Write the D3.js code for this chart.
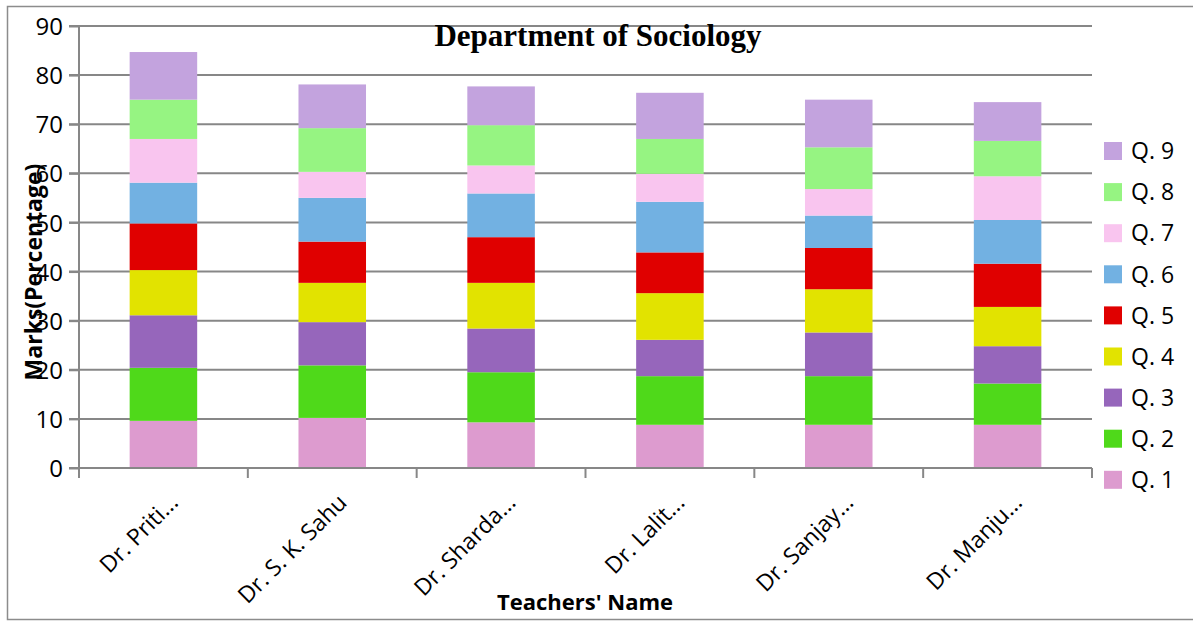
<!DOCTYPE html>
<html>
<head>
<meta charset="utf-8">
<script src="https://cdn.jsdelivr.net/npm/d3@7"></script>
<style>
  body { margin: 0; background: #fff; }
  svg text { font-family: "Open Sans", sans-serif; fill: #000; }
  .title { font-family: "Liberation Serif", "Times New Roman", serif; font-weight: bold; }
</style>
</head>
<body>
<div id="vis"></div>
<script>
// Teachers on the x axis
const teachers = ['Dr. Priti...', 'Dr. S. K. Sahu', 'Dr. Sharda...', 'Dr. Lalit...', 'Dr. Sanjay...', 'Dr. Manju...'];

// Question names, bottom of stack first
const questions = ['Q. 1', 'Q. 2', 'Q. 3', 'Q. 4', 'Q. 5', 'Q. 6', 'Q. 7', 'Q. 8', 'Q. 9'];

// Marks per question, one value per teacher
const q1 = [9.6, 10.2, 9.3, 8.8, 8.8, 8.8];
const q2 = [10.8, 10.7, 10.2, 9.9, 9.9, 8.4];
const q3 = [10.7, 8.8, 8.9, 7.4, 8.9, 7.6];
const q4 = [9.2, 8.0, 9.3, 9.5, 8.8, 8.0];
const q5 = [9.5, 8.4, 9.3, 8.3, 8.4, 8.8];
const q6 = [8.3, 8.9, 8.9, 10.3, 6.6, 8.9];
const q7 = [8.9, 5.3, 5.7, 5.7, 5.4, 8.9];
const q8 = [8.0, 8.9, 8.2, 7.1, 8.5, 7.2];
const q9 = [9.7, 8.9, 7.9, 9.4, 9.7, 7.9];

const yTicks = [0, 10, 20, 30, 40, 50, 60, 70, 80, 90];

const colors = ['#dd9bcf', '#4fd91a', '#9666bb', '#e2e300', '#e00000', '#72b1e2', '#f9c5ef', '#96f482', '#c3a3de'];

const series = [q1, q2, q3, q4, q5, q6, q7, q8, q9];

// build rows for d3.stack
let rows = teachers.map((t, i) => {
    let row = { teacher: t };
    questions.forEach((q, j) => { row[q] = series[j][i]; });
    return row;
});

let margin = { left: 79, top: 26, right: 101, bottom: 156 };
let width = 1193 - margin.left - margin.right;
let height = 624 - margin.top - margin.bottom;

let svg = d3.select('#vis')
    .append('svg')
    .attr('width', 1193)
    .attr('height', 624);

// chart border
svg.append('rect')
    .attr('x', 7.5).attr('y', 6.5)
    .attr('width', 1200).attr('height', 613)
    .attr('fill', 'none')
    .attr('stroke', '#8c8c8c')
    .attr('stroke-width', 1.5);

let g = svg.append('g')
    .attr('transform', `translate(${margin.left}, ${margin.top})`);

let xScale = d3.scaleBand()
    .domain(teachers)
    .range([0, width]);

let yScale = d3.scaleLinear()
    .domain([0, 90])
    .range([height, 0]);

// gridlines
g.append('g')
    .selectAll('line')
    .data(yTicks)
    .join('line')
    .attr('x1', -10).attr('x2', width)
    .attr('y1', d => yScale(d)).attr('y2', d => yScale(d))
    .attr('stroke', '#878787')
    .attr('stroke-width', 2);

// stacked bars
let stacked = d3.stack().keys(questions)(rows);
let barW = xScale.bandwidth() * 0.4;

g.append('g')
    .selectAll('g')
    .data(stacked)
    .join('g')
    .attr('fill', (d, i) => colors[i])
    .selectAll('rect')
    .data(d => d)
    .join('rect')
    .attr('x', d => xScale(d.data.teacher) + (xScale.bandwidth() - barW) / 2)
    .attr('width', barW)
    .attr('y', d => yScale(d[1]))
    .attr('height', d => yScale(d[0]) - yScale(d[1]));

// y axis
let yAxis = d3.axisLeft(yScale).tickValues(yTicks).tickSize(10).tickPadding(6);
let yAxisG = g.append('g').call(yAxis);
yAxisG.select('.domain').attr('stroke', '#878787').attr('stroke-width', 2).attr('d', `M0,0V${height}`);
yAxisG.selectAll('.tick line').attr('stroke', '#878787').attr('stroke-width', 2);
yAxisG.selectAll('.tick text')
    .attr('font-size', 24)
    .attr('font-family', 'Open Sans')
    .attr('fill', '#000')
    .attr('dy', '0.36em');

// x axis with ticks at band boundaries
let xAxisG = g.append('g').attr('transform', `translate(0, ${height})`);
xAxisG.append('line')
    .attr('x1', 0).attr('x2', width)
    .attr('stroke', '#878787').attr('stroke-width', 2);
xAxisG.selectAll('.bound')
    .data(teachers.concat(['end']))
    .join('line')
    .attr('class', 'bound')
    .attr('x1', (d, i) => i * xScale.step())
    .attr('x2', (d, i) => i * xScale.step())
    .attr('y1', 0).attr('y2', 10)
    .attr('stroke', '#878787').attr('stroke-width', 2);

xAxisG.selectAll('.xlabel')
    .data(teachers)
    .join('text')
    .attr('class', 'xlabel')
    .attr('text-anchor', 'end')
    .attr('font-size', 23)
    .attr('transform', d => `translate(${xScale(d) + xScale.bandwidth() / 2 + 16}, 36) rotate(-45)`)
    .text(d => d);

// title
svg.append('text')
    .attr('class', 'title')
    .attr('x', 598)
    .attr('y', 46)
    .attr('text-anchor', 'middle')
    .attr('font-size', 31)
    .text('Department of Sociology');

// axis titles
svg.append('text')
    .attr('text-anchor', 'middle')
    .attr('font-weight', 'bold')
    .attr('font-size', 22)
    .attr('x', 585)
    .attr('y', 610)
    .text("Teachers' Name");

svg.append('text')
    .attr('text-anchor', 'middle')
    .attr('font-weight', 'bold')
    .attr('font-size', 23)
    .attr('transform', 'translate(42, 272) rotate(-90)')
    .text('Marks(Percentage)');

// legend, Q. 9 on top
let legend = svg.append('g').attr('transform', 'translate(1104, 151)');
let legendItems = legend.selectAll('g')
    .data(questions.slice().reverse())
    .join('g')
    .attr('transform', (d, i) => `translate(0, ${i * 41.1})`);

legendItems.append('rect')
    .attr('x', 0).attr('y', -9)
    .attr('width', 18).attr('height', 18)
    .attr('fill', d => colors[questions.indexOf(d)]);

legendItems.append('text')
    .attr('x', 27)
    .attr('dy', '0.36em')
    .attr('font-size', 23)
    .text(d => d);
</script>
</body>
</html>
